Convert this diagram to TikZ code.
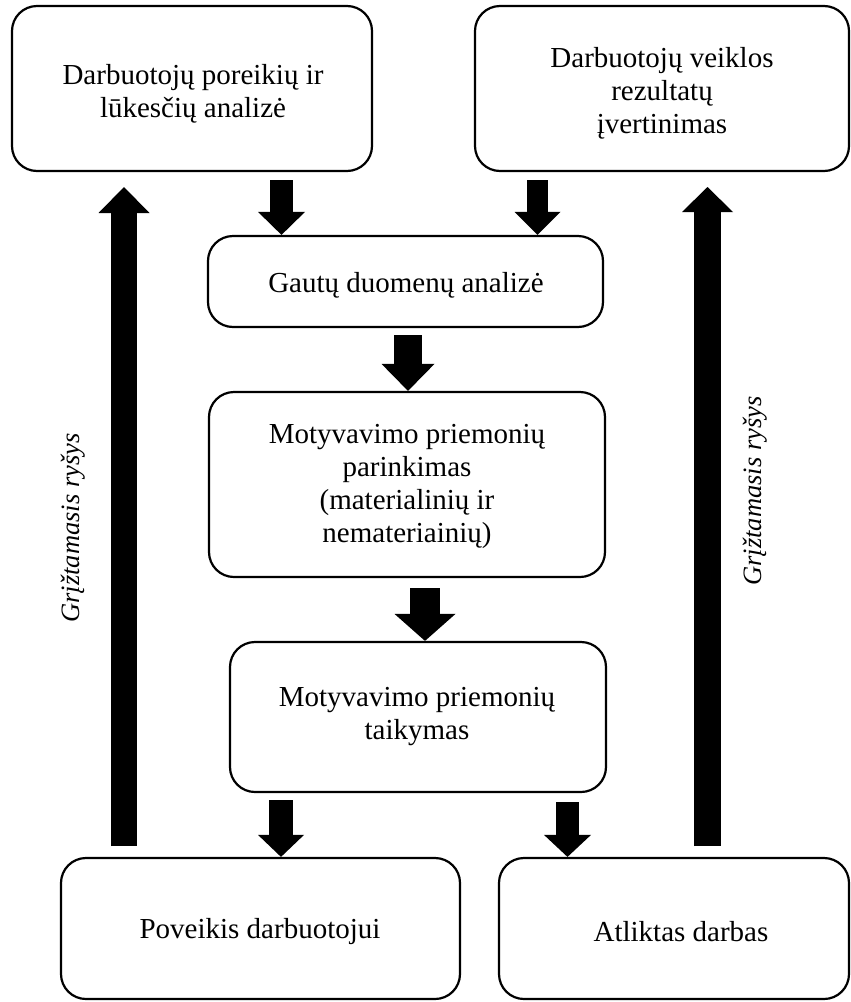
\documentclass[tikz,border=0pt]{standalone}
\usepackage{fontspec}
\setmainfont{Liberation Serif}
\usetikzlibrary{arrows.meta}
\begin{document}
\begin{tikzpicture}[x=1pt,y=-1pt,
  box/.style={draw, line width=2.2pt, rounded corners=25pt, inner sep=0pt},
  lbl/.style={align=center, font=\fontsize{29}{33}\selectfont, inner sep=0pt},
  fbl/.style={font=\fontsize{26.5}{30}\selectfont\itshape, inner sep=0pt, rotate=90},
  barrow/.style n args={3}{line width=#1, -{Triangle[width=#2, length=#3, line width=0pt]}}
]
\useasboundingbox (0,0) rectangle (851,1002);

% boxes
\node[box, minimum width=360pt, minimum height=165pt] (b1) at (192,88.5) {};
\node[box, minimum width=374pt, minimum height=165pt] (b2) at (662,88.5) {};
\node[box, minimum width=395pt, minimum height=91pt] (g) at (405.5,281.5) {};
\node[box, minimum width=396pt, minimum height=185pt] (p) at (407,484.5) {};
\node[box, minimum width=376pt, minimum height=150pt] (t) at (418,717) {};
\node[box, minimum width=399pt, minimum height=141pt] (pv) at (260.5,928.5) {};
\node[box, minimum width=350pt, minimum height=141pt] (a) at (674,928.5) {};

% texts
\node[lbl] (tb1) at (193,94) {Darbuotojų poreikių ir\\lūkesčių analizė};
\node[lbl] (tb2) at (662,93) {Darbuotojų veiklos\\rezultatų\\įvertinimas};
\node[lbl] (tg) at (406,285) {Gautų duomenų analizė};
\node[lbl] (tp) at (407,486) {Motyvavimo priemonių\\parinkimas\\(materialinių ir\\nemateriainių)};
\node[lbl] (tt) at (417,717) {Motyvavimo priemonių\\taikymas};
\node[lbl] (tpv) at (260,932) {Poveikis darbuotojui};
\node[lbl] (ta) at (681,932) {Atliktas darbas};
\node[fbl] (fb1) at (73,528) {Grįžtamasis ryšys};
\node[fbl] (fb2) at (755,491) {Grįžtamasis ryšys};

% arrow start / free-end coordinates
\coordinate (a1s) at (281.5,180);
\coordinate (a2s) at (537.5,180);
\coordinate (a3s) at (408,335);
\coordinate (a4s) at (425,588);
\coordinate (a5s) at (281,800);
\coordinate (a6s) at (567.5,802);
\coordinate (u1s) at (124,846);
\coordinate (u1e) at (124,187);
\coordinate (u2s) at (707.5,846);
\coordinate (u2e) at (707.5,187);

% block arrows
\draw[barrow={23pt}{47pt}{23pt}] (a1s) -- (a1s |- g.north);
\draw[barrow={21pt}{46pt}{23pt}] (a2s) -- (a2s |- g.north);
\draw[barrow={28pt}{53pt}{27pt}] (a3s) -- (a3s |- p.north);
\draw[barrow={30pt}{61pt}{27pt}] (a4s) -- (a4s |- t.north);
\draw[barrow={24pt}{46pt}{22pt}] (a5s) -- (a5s |- pv.north);
\draw[barrow={23pt}{47pt}{22pt}] (a6s) -- (a6s |- a.north);
\draw[barrow={26pt}{51pt}{26pt}] (u1s) -- (u1e);
\draw[barrow={27pt}{51pt}{25pt}] (u2s) -- (u2e);
\end{tikzpicture}
\end{document}
